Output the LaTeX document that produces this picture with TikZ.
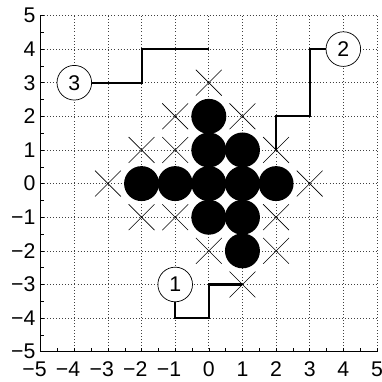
\documentclass[tikz,border=0pt]{standalone}
\usepackage{fontspec}
\setmainfont{Liberation Sans}
\usetikzlibrary{shapes.misc}
\newcommand{\ticklab}[1]{\ifnum#1<0 \llap{−}\number\numexpr-#1\relax\else#1\fi}

\begin{document}
\begin{tikzpicture}[
  font=\fontsize{18}{21}\selectfont,
  dot/.style={circle, fill=black, inner sep=0pt, minimum size=1.04cm},
  xmark/.style={cross out, draw, line width=0.5pt, inner sep=0pt, minimum size=0.75cm},
  tag/.style={circle, draw, line width=0.6pt, fill=white, inner sep=0pt, minimum size=1.03cm},
  route/.style={line width=1.8pt},
  lab/.style={inner sep=0pt}
]
  \useasboundingbox (-6.21,-5.90) rectangle (5.13,5.46);
  \draw[black!75, dotted, line width=0.6pt] (-5,-5) grid (5,5);
  \draw[line width=0.8pt] (-5,5) -- (-5,-5) -- (5,-5);
  \foreach \t in {-4.5,-4,...,5} {\draw (\t,-5) -- ++(0,0.1); \draw (-5,\t) -- ++(0.1,0);}
  \foreach \v in {-5,...,5} {
    \node[lab, anchor=east] (yl\v) at (-5.15,\v) {\ticklab{\v}};
    \node[lab] (xl\v) at (\v,-5.53) {\ticklab{\v}};
  }
  % crosses and dots
  \foreach \x/\y in {0/3,-1/2,1/2,-2/1,-1/1,2/1,-3/0,3/0,-2/-1,-1/-1,2/-1,0/-2,2/-2,1/-3}
    \node[xmark] (c\x\y) at (\x,\y) {};
  \foreach \p [count=\i] in {(0,2),(0,1),(1,1),(-2,0),(-1,0),(0,0),(1,0),(2,0),(0,-1),(1,-1),(1,-2)}
    \node[dot] (d\i) at \p {};
  % numbered routes
  \node[tag] (l1) at (-1,-3) {1};
  \node[tag] (l2) at (4,4) {2};
  \node[tag] (l3) at (-4,3) {3};
  \coordinate (e3) at (0,4);
  \draw[route] (l3) -| (-2,4) -- (e3);
  \draw[route] (l2) -| (3,2) -| (c21.center);
  \draw[route] (l1) |- (0,-4) |- (c1-3.center);
\end{tikzpicture}
\end{document}
